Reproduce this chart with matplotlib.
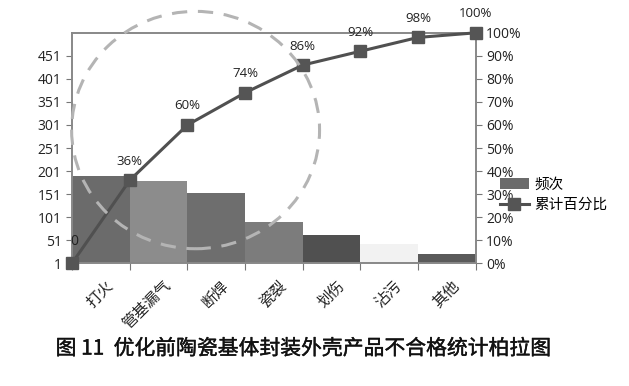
import matplotlib.pyplot as plt
import matplotlib.transforms as mtransforms
import matplotlib.patheffects as pe
from matplotlib.patches import Ellipse
from matplotlib.ticker import FuncFormatter

plt.rcParams["font.family"] = ["Open Sans", "Noto Sans CJK SC", "DejaVu Sans"]

categories = ["打火", "管基漏气", "断焊", "瓷裂", "划伤", "沾污", "其他"]
counts = [190, 178, 152, 89, 62, 41, 21]
cum_pct = [0, 36, 60, 74, 86, 92, 98, 100]
bar_colors = ["#6b6b6b", "#8c8c8c", "#6e6e6e", "#7c7c7c", "#505050", "#f2f2f2", "#5a5a5a"]
left_ticks = [1, 51, 101, 151, 201, 251, 301, 351, 401, 451]
right_ticks = [0, 10, 20, 30, 40, 50, 60, 70, 80, 90, 100]
caption = "图 11  优化前陶瓷基体封装外壳产品不合格统计柏拉图"

fig = plt.figure(figsize=(6.29, 3.86), dpi=100)
ax = fig.add_axes([0.1145, 0.318, 0.642, 0.597])
ax2 = ax.twinx()

n = len(categories)
centers = [i + 0.5 for i in range(n)]
bars = ax.bar(centers, counts, width=1.0, color=bar_colors, bottom=1, label="频次")
ax.set_xlim(0, n)
ax.set_ylim(1, 501)
ax.set_yticks(left_ticks)
ax.set_xticks(range(n + 1))
ax.set_xticklabels([])
ax.set_xticks(centers, minor=True)
ax.set_xticklabels(categories, minor=True, rotation=45, ha="right", va="top",
                   rotation_mode="anchor", fontsize=11, color="#222",
                   family=["Noto Sans CJK SC"])
ax.tick_params(axis="x", which="minor", length=0, pad=10)
ax.tick_params(axis="x", which="major", length=5, color="#777")
ax.tick_params(axis="y", length=4, color="#777", labelsize=10, labelcolor="#222")

# nudge rotated category labels a little to the right
shift = mtransforms.ScaledTranslation(4 / 100, 0, fig.dpi_scale_trans)
for lab in ax.get_xticklabels(minor=True):
    lab.set_transform(lab.get_transform() + shift)

line, = ax2.plot(range(n + 1), cum_pct, color="#505050", lw=2.2, marker="s",
                 markersize=9, markerfacecolor="#555", markeredgecolor="#555",
                 clip_on=False, label="累计百分比", zorder=5)
ax2.set_ylim(0, 100)
ax2.set_yticks(right_ticks)
ax2.yaxis.set_major_formatter(FuncFormatter(lambda v, p: f"{v:.0f}%"))
ax2.tick_params(axis="y", length=4, color="#777", labelsize=10, labelcolor="#222")

for x, v in enumerate(cum_pct):
    if x == 0:
        ax2.annotate("0", (x, v), xytext=(-1, 10), textcoords="offset points",
                     ha="left", va="bottom", fontsize=10, color="#222")
    else:
        ax2.annotate(f"{v}%", (x, v), xytext=(0, 9), textcoords="offset points",
                     ha="center", va="bottom", fontsize=9.5, color="#222",
                     annotation_clip=False)

for a in (ax, ax2):
    for s in a.spines.values():
        s.set_color("#888")
        s.set_linewidth(1.2)

circle = Ellipse((0.306, 0.578), 0.614, 1.03, transform=ax.transAxes, fill=False,
                 ls=(0, (5, 3.5)), lw=2.2, edgecolor="#b4b4b4", clip_on=False, zorder=6)
ax2.add_patch(circle)

fig.legend(handles=[bars, line], loc="upper left", bbox_to_anchor=(0.785, 0.555),
           frameon=False, prop={"family": "Noto Sans CJK SC", "size": 10.5},
           handlelength=2.0, handletextpad=0.4, labelspacing=0.45, borderaxespad=0)

fig.text(0.483, 0.097, caption, ha="center", va="center", fontsize=15,
         weight="normal", family=["Noto Sans CJK SC"], color="#111",
         path_effects=[pe.withStroke(linewidth=0.3, foreground="#111")])

fig.savefig("out.png", dpi=100)
